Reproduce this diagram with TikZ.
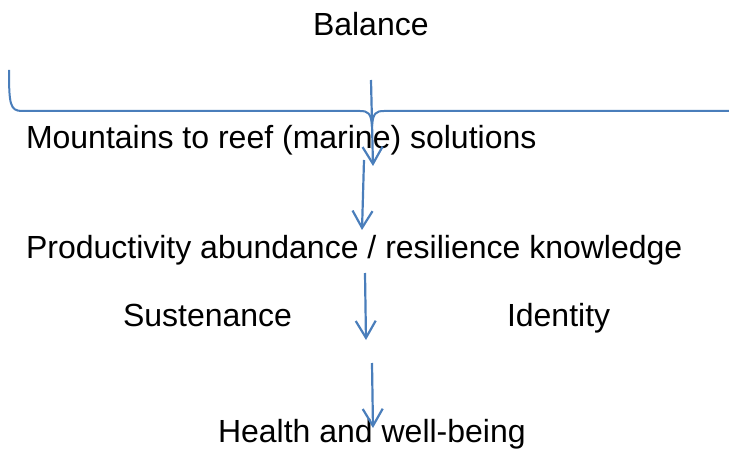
\documentclass[tikz,border=0pt]{standalone}
\usepackage{fontspec}
\setmainfont{Liberation Sans}
\usetikzlibrary{arrows.meta}
\definecolor{arrowblue}{HTML}{4A7EBB}
\tikzset{
  lbl/.style={anchor=base west, inner sep=0pt, outer sep=0pt, font=\fontsize{16}{19}\selectfont, text=black},
  flow/.style={draw=arrowblue, line width=1.1pt, -{Straight Barb[length=8.5pt,width=10pt,line width=1.1pt]}},
  bracel/.style={draw=arrowblue, line width=1pt}
}
\begin{document}
\begin{tikzpicture}[x=0.5pt,y=-0.5pt]
\useasboundingbox (0,0) rectangle (729,449);
% texts
\node[lbl] (bal) at (313,36) {Balance};
\node[lbl] (mtr) at (26,149) {Mountains to reef (marine) solutions};
\node[lbl] (prod) at (26,258) {Productivity abundance / resilience knowledge};
\node[lbl] (sus) at (123,326) {Sustenance};
\node[lbl] (ide) at (507,326) {Identity};
\node[lbl] (hea) at (218,442) {Health and well-being};
% brace
\draw[bracel] (9,70) .. controls (9,104) and (10,111) .. (22,111) -- (360,111)
  .. controls (368,111) and (371,113) .. (372,126)
  .. controls (373,113) and (376,111) .. (384,111) -- (729,111);
% arrow endpoints
\coordinate (a1s) at (371,80);  \coordinate (a1e) at (373,166);
\coordinate (a2s) at (364,160); \coordinate (a2e) at (362,230);
\coordinate (a3s) at (365,273); \coordinate (a3e) at (366,340);
\coordinate (a4s) at (372,363); \coordinate (a4e) at (373,428);
\draw[flow] (a1s) -- (a1e);
\draw[flow] (a2s) -- (a2e);
\draw[flow] (a3s) -- (a3e);
\draw[flow] (a4s) -- (a4e);
\end{tikzpicture}
\end{document}
